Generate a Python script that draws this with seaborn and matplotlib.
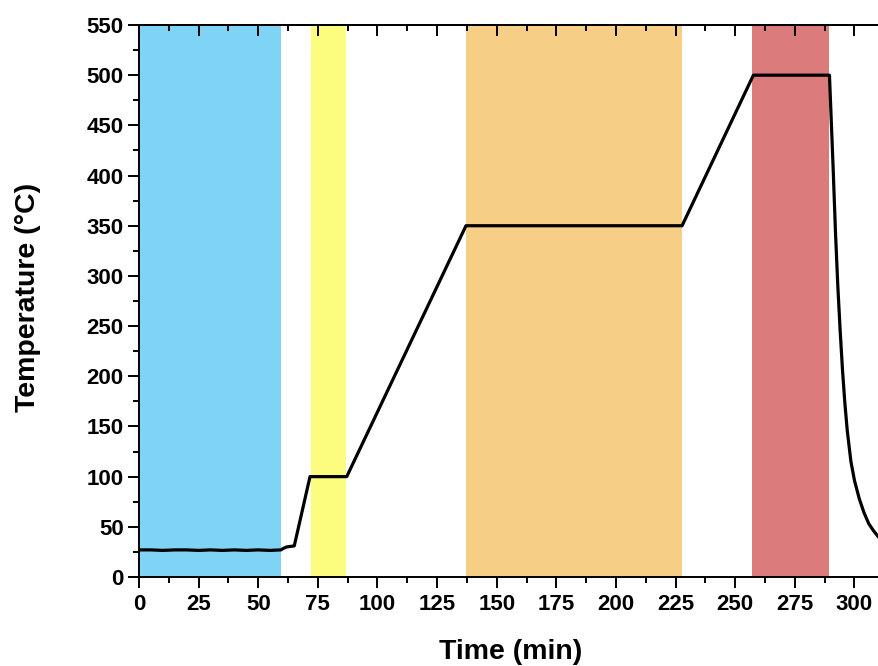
import matplotlib
matplotlib.use("Agg")
import matplotlib.pyplot as plt
import seaborn as sns
import pandas as pd
from matplotlib.ticker import MultipleLocator

# ---- data ----
time_min = [0, 5, 10, 15, 20, 25, 30, 35, 40, 45, 50, 55, 59.5, 60.5, 62, 65.1,
            71.7, 80, 87.1, 137.1, 180, 227.7, 257.6, 275, 289.5,
            291, 292, 293, 294, 295, 296, 297, 298.5, 300, 302, 304, 306, 308,
            310, 313, 316]
temperature = [27, 27, 26.5, 27, 27, 26.5, 27, 26.5, 27, 26.5, 27, 26.5, 27, 28.5, 30, 31,
               100, 100, 100, 350, 350, 350, 500, 500, 500,
               410, 345, 290, 245, 205, 172, 145, 115, 96, 78, 64, 53, 46,
               40, 35, 32]

span_start = [0, 72.3, 137.1, 256.9]
span_end = [59.5, 86.7, 227.7, 289.3]
span_color = ["#7FD4F6", "#FCFC7E", "#F7CE85", "#DC7B7B"]

x_label = "Time (min)"
y_label = "Temperature (°C)"

sns.set_theme(style="white")
plt.rcParams["font.family"] = ["Liberation Sans", "DejaVu Sans"]
plt.rcParams["font.weight"] = "bold"
plt.rcParams["text.color"] = "black"
plt.rcParams["xtick.color"] = "black"
plt.rcParams["ytick.color"] = "black"
plt.rcParams["axes.labelcolor"] = "black"

fig = plt.figure(figsize=(8.79, 6.66), dpi=100)
W, H = 879, 666
x0_px, y0_px = 139, 577
px_per_x = 2.385
px_per_y = 552 / 550
xmax = 320
ax = fig.add_axes([x0_px / W, 1 - y0_px / H, xmax * px_per_x / W, 550 * px_per_y / H])

for s, e, c in zip(span_start, span_end, span_color):
    ax.axvspan(s, e, color=c, lw=0, zorder=0)

df = pd.DataFrame({"t": time_min, "T": temperature})
sns.lineplot(data=df, x="t", y="T", color="black", lw=2.3, ax=ax, zorder=3)

ax.set_xlim(0, xmax)
ax.set_ylim(0, 550)
ax.xaxis.set_major_locator(MultipleLocator(25))
ax.xaxis.set_minor_locator(MultipleLocator(12.5))
ax.yaxis.set_major_locator(MultipleLocator(50))
ax.yaxis.set_minor_locator(MultipleLocator(25))

for sp in ["left", "bottom", "top"]:
    ax.spines[sp].set_visible(True)
    ax.spines[sp].set_color("black")
    ax.spines[sp].set_linewidth(1.4)
ax.spines["right"].set_visible(False)

ax.tick_params(axis="x", which="both", direction="out", bottom=True, top=False,
               color="black", labelcolor="black", width=1.4, labelsize=16, pad=4)
ax.tick_params(axis="x", which="major", length=8)
ax.tick_params(axis="x", which="minor", length=4.5)
ax.tick_params(axis="y", which="both", direction="out", left=True, right=False,
               color="black", labelcolor="black", width=1.4, labelsize=16, pad=3)
ax.tick_params(axis="y", which="major", length=8)
ax.tick_params(axis="y", which="minor", length=4.5)

# top secondary ticks pointing inward
sec = ax.secondary_xaxis("top")
sec.xaxis.set_major_locator(MultipleLocator(25))
sec.xaxis.set_minor_locator(MultipleLocator(12.5))
sec.tick_params(axis="x", which="both", direction="in", width=1.4, color="black", labeltop=False)
sec.tick_params(axis="x", which="major", length=8)
sec.tick_params(axis="x", which="minor", length=4.5)
sec.spines["top"].set_linewidth(1.4)
sec.spines["top"].set_color("black")

for lab in ax.get_xticklabels() + ax.get_yticklabels():
    lab.set_fontweight("bold")

ax.set_xlabel("")
ax.set_ylabel("")
fig.text(511 / W, 1 - 652 / H, x_label, ha="center", va="center", fontsize=20.5,
         fontweight="bold", color="black")
fig.text(28 / W, 1 - 297 / H, y_label, ha="center", va="center", rotation=90,
         fontsize=20.5, fontweight="bold", color="black")

fig.savefig("out.png", dpi=100)
